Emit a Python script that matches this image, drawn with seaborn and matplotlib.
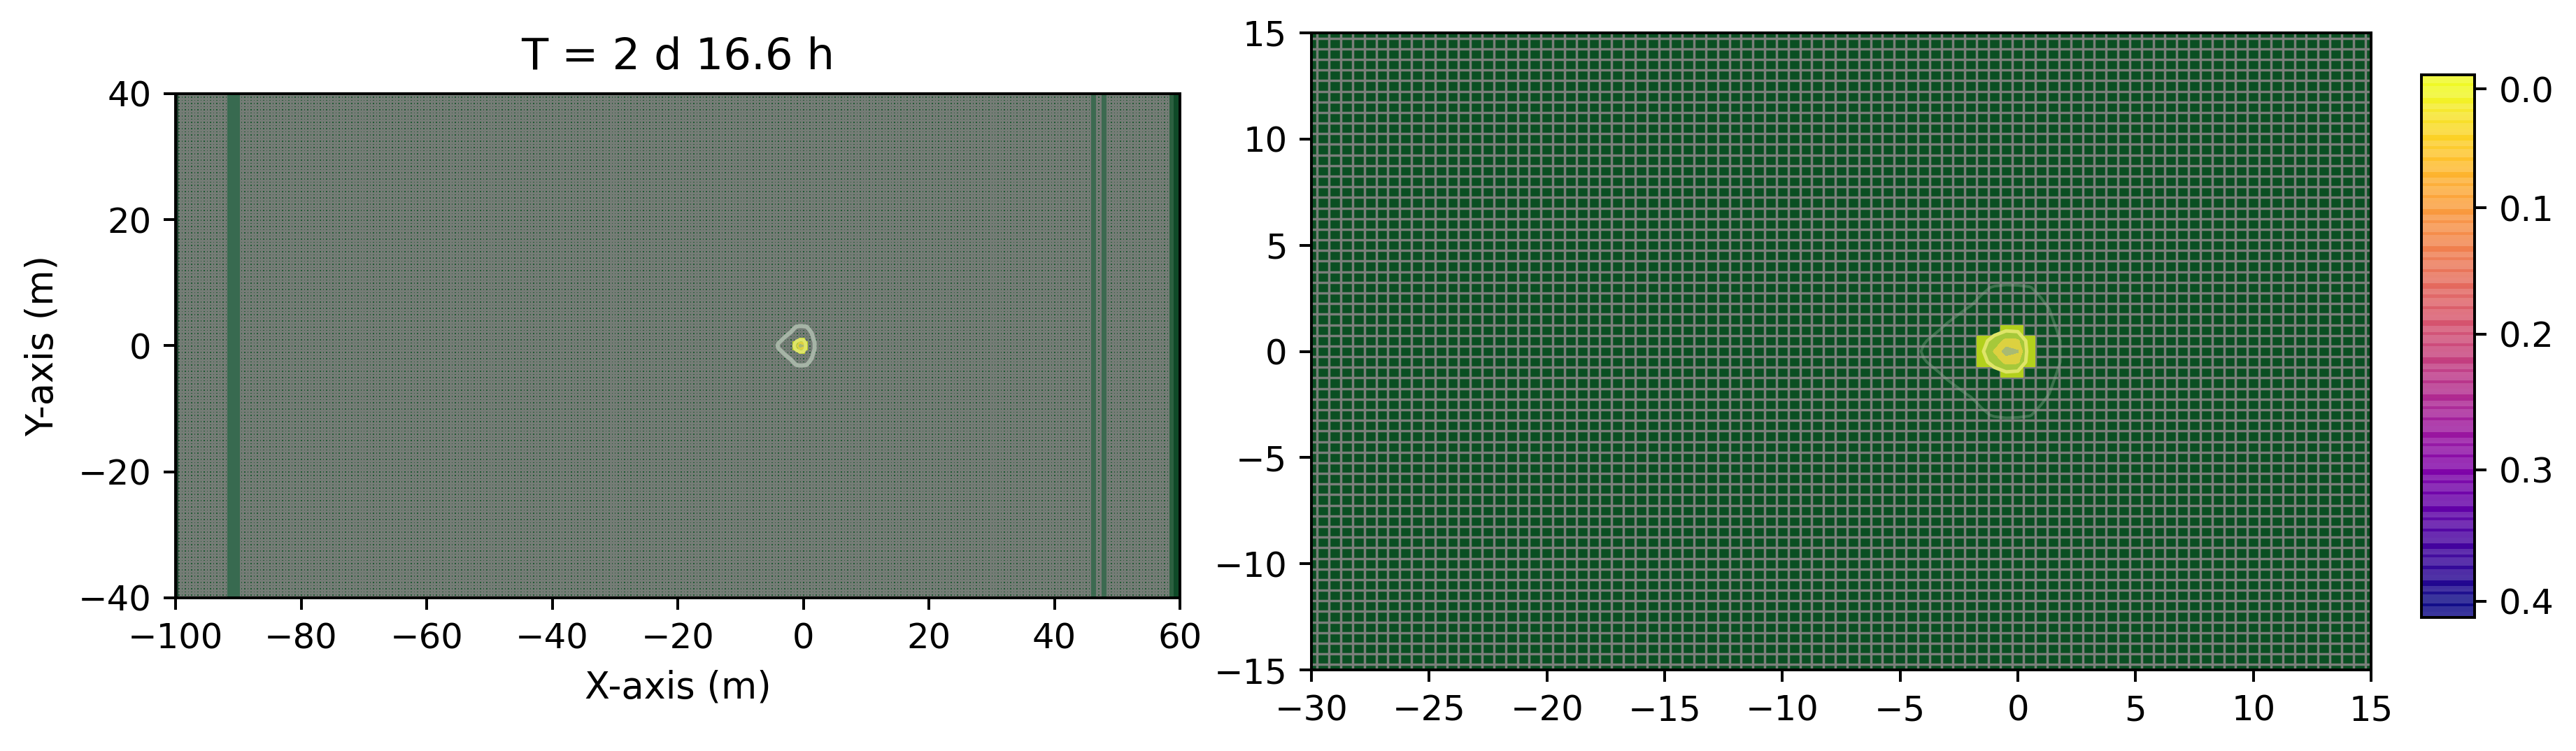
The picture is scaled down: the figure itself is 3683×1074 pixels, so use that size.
import numpy as np
import matplotlib
matplotlib.use("Agg")
import matplotlib.pyplot as plt
import seaborn as sns

# values
title_text = "T = 2 d 16.6 h"
left_xticks = [-100, -80, -60, -40, -20, 0, 20, 40, 60]
left_yticks = [-40, -20, 0, 20, 40]
right_xticks = [-30, -25, -20, -15, -10, -5, 0, 5, 10, 15]
right_yticks = [-15, -10, -5, 0, 5, 10, 15]
cbar_ticks = [0.0, 0.1, 0.2, 0.3, 0.4]
cbar_tick_frac = [0.026, 0.245, 0.478, 0.728, 0.970]  # where they sit along the bar
cbar_top = -0.011
cbar_bottom = 0.4126

# dark columns in the left panel (x start, x end, colour)
band_starts = [-100.0, -91.8, 45.9, 47.5, 58.3, 59.0]
band_ends = [-99.5, -89.7, 46.6, 48.3, 59.0, 59.8]
band_colors = ["#1b3a2a", "#386a50", "#3c6a50", "#3c6a50", "#2c6040", "#0f4a28"]

# field around the well, y = 0 and the upper half, mirrored below
field_x = [-5, -4, -3, -2, -1.5, -1, -0.5, 0, 0.5, 1, 2, 3]
field_y_half = [0, 0.5, 1, 2, 3, 4]
row_y0 = [.01, .055, .08, .12, .14, .26, .40, .36, .08, .07, .045, .01]
row_y05 = [.005, .047, .07, .10, .12, .19, .28, .27, .09, .07, .045, .01]
row_y1 = [.002, .03, .06, .075, .09, .11, .14, .13, .08, .065, .042, .008]
row_y2 = [0, .005, .03, .055, .062, .07, .075, .07, .065, .06, .03, .005]
row_y3 = [0, 0, .005, .02, .045, .053, .056, .055, .052, .04, .01, 0]
row_y4 = [0, 0, 0, 0, .005, .01, .01, .01, .005, .005, 0, 0]

# wetted cells in the middle of the mesh
cross_x = [-1.75, -1.25, -0.75, -0.25, 0.25, 0.75]
cross_y = [-1.25, -0.75, -0.25, 0.25, 0.75, 1.25]
cross_cells = [[np.nan, np.nan, 1, 1, np.nan],
               [1, 1, 1, 1, 1],
               [1, 1, 1, 1, 1],
               [1, 1, 1, 1, 1],
               [np.nan, np.nan, 1, 1, np.nan]]

# colour bar stripes
stripe_alpha = [0.82, 0.82, 0.82, 0.98, 0.84, 0.84, 0.82, 0.82, 1.0, 1.0, 0.84, 0.82, 0.96]

GREEN = "#0a4f22"
GREY = "#7a7f7a"
W, H = 3683, 1074
DPI = 357

sns.set_style("ticks", {"axes.edgecolor": "black", "xtick.color": "black", "ytick.color": "black",
                        "text.color": "black", "axes.labelcolor": "black"})
plt.rcParams["font.family"] = ["DejaVu Sans"]
plt.rcParams["font.size"] = 10


def axes_px(fig, x0, y0, x1, y1):
    return fig.add_axes([x0 / W, 1 - y1 / H, (x1 - x0) / W, (y1 - y0) / H])


def draw_mesh(ax, xlim, ylim, lw, line_color):
    ax.set_facecolor(GREEN)
    x_lines = np.arange(xlim[0] + 0.25, xlim[1], 0.5)
    y_lines = np.arange(ylim[0] + 0.25, ylim[1], 0.5)
    ax.vlines(x_lines, ylim[0], ylim[1], color=line_color, lw=lw, zorder=1)
    ax.hlines(y_lines, xlim[0], xlim[1], color=line_color, lw=lw, zorder=1)
    ax.set_xlim(xlim)
    ax.set_ylim(ylim)


def draw_well(ax, ring_color, ring_lw, ring_alpha):
    rows = np.array([row_y0, row_y05, row_y1, row_y2, row_y3, row_y4])
    field = np.vstack([rows[:0:-1], rows])
    fy = np.array(field_y_half)
    fy = np.concatenate([-fy[:0:-1], fy])
    ax.contour(field_x, fy, field, levels=[0.05], colors=[ring_color],
               linewidths=ring_lw, alpha=ring_alpha, zorder=3)
    ax.pcolormesh(cross_x, cross_y, np.ma.masked_invalid(cross_cells),
                  cmap=sns.blend_palette(["#b2d01c", "#b2d01c"], as_cmap=True), zorder=4)
    ax.contourf(field_x, fy, field, levels=[0.15, 0.25, 0.35, 0.5],
                colors=["#a6c83a", "#dcd140", "#a9ba72"], zorder=5)
    ax.contour(field_x, fy, field, levels=[0.15], colors=["#dfe568"],
               linewidths=1.0, zorder=6)


fig = plt.figure(figsize=(W / DPI, H / DPI), dpi=DPI)

# left panel
ax1 = axes_px(fig, 251, 134, 1687, 855)
draw_mesh(ax1, (-100, 60), (-40, 40), 0.65, "#757c76")
for start, end, color in zip(band_starts, band_ends, band_colors):
    ax1.axvspan(start, end, color=color, lw=0, zorder=2)
draw_well(ax1, "#a6b4a6", 1.2, 1.0)
ax1.set_xticks(left_xticks)
ax1.set_yticks(left_yticks)
ax1.set_xlabel("X-axis (m)", fontsize=10.6)
ax1.set_ylabel("Y-axis (m)", fontsize=10.6, labelpad=5)
ax1.set_title(title_text, fontsize=12.6, pad=7)

# right panel, zoomed in on the well
ax2 = axes_px(fig, 1875, 47, 3390, 958)
draw_mesh(ax2, (-30, 15), (-15, 15), 0.7, GREY)
draw_well(ax2, "#8aa890", 0.8, 0.4)
ax2.set_xticks(right_xticks)
ax2.set_yticks(right_yticks)

# colour bar, value 0 on top
cax = axes_px(fig, 3462, 107, 3538, 883)
n_bands = 190
band_values = np.linspace(cbar_top, cbar_bottom, n_bands).reshape(-1, 1)
band_alpha = np.resize(stripe_alpha, n_bands).reshape(-1, 1)
sns.heatmap(band_values, ax=cax, cmap="plasma_r", vmin=0, vmax=0.4, cbar=False,
            xticklabels=False, yticklabels=False, alpha=band_alpha)
cax.set_yticks([f * n_bands for f in cbar_tick_frac])
cax.set_yticklabels([f"{v:.1f}" for v in cbar_ticks], rotation=0)
cax.yaxis.tick_right()
cax.tick_params(axis="y", length=3.5, width=0.8)
for spine in cax.spines.values():
    spine.set_visible(True)
    spine.set_linewidth(0.8)

fig.savefig("out.png", dpi=DPI)
